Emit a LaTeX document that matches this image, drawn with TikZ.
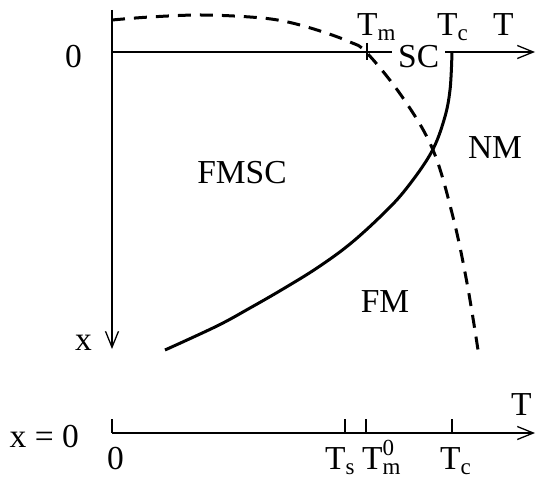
\documentclass[tikz,border=0pt]{standalone}
\usepackage{fontspec}
\setmainfont{Liberation Serif}
\usetikzlibrary{arrows.meta}
\newcommand\smf{\fontsize{23}{23}\selectfont}
\newcommand\lowsub[1]{\raisebox{-5pt}{\smf #1}}
\begin{document}
\begin{tikzpicture}[x=1pt,y=-1pt,
  axis/.style={line width=1.3pt,-{Straight Barb[length=16pt,width=13pt,line width=1.3pt]}},
  tickline/.style={line width=1.1pt},
  lbl/.style={inner sep=0pt,font=\fontsize{33.5}{36}\selectfont},
  phase/.style={line width=3pt},
  crossover/.style={line width=3pt,dash pattern=on 13pt off 9pt}]
\useasboundingbox (0,0) rectangle (537,478);
% coordinates
\coordinate (vtop) at (112,10);
\coordinate (vend) at (112,349);
\coordinate (o) at (112,52);
\coordinate (hend) at (535,52);
\coordinate (tmA) at (367,43);
\coordinate (tmB) at (367,60);
\coordinate (bo) at (112,433);
\coordinate (bend) at (535,433);
% axes
\draw[axis] (vtop) -- (vend);
\draw[axis] (o) -- (hend);
\draw[tickline] (tmA) -- (tmB);
% labels top
\node[lbl,anchor=base west] (zero) at (65,68) {0};
\node[lbl,anchor=base west] (tm) at (357,36) {T\lowsub{m}};
\node[lbl,anchor=base west] (tc) at (437,36) {T\lowsub{c}};
\node[lbl,anchor=base west] (tlab) at (493,36) {T};
\node[lbl,anchor=base west,fill=white,inner xsep=6pt,inner ysep=3pt] (sc) at (392,68) {SC};
\node[lbl,anchor=base west] (xlab) at (75,350) {x};
\node[lbl] (fmsc) at (242,173) {FMSC};
\node[lbl] (nm) at (495,148) {NM};
\node[lbl] (fm) at (385,302) {FM};
% curves
\draw[phase] plot[smooth,tension=0.6] coordinates {(452,52) (450,90) (444,120) (431,153) (406,189) (383,214) (350,244) (317,268) (283,289) (250,308) (217,326) (165,350)};
\draw[crossover] plot[smooth,tension=0.6] coordinates {(112,20) (150,17) (200,15) (250,17) (283,21) (317,30) (350,42) (367,53) (403,98) (433,150) (453,217) (467,283) (478,350)};
% bottom axis
\draw[axis] (bo) -- (bend);
\foreach \xx in {112,345,366,452} \draw[tickline] (\xx,419) -- (\xx,433);
\node[lbl,anchor=base east] (x0) at (79,447) {x = 0};
\node[lbl,anchor=base west] (b0) at (107,469) {0};
\node[lbl,anchor=base west] (ts) at (325,469) {T\lowsub{s}};
\node[lbl,anchor=base west] (tm0) at (362,469) {T\rlap{\raisebox{14pt}{\smf 0}}\lowsub{m}};
\node[lbl,anchor=base west] (tc2) at (440,469) {T\lowsub{c}};
\node[lbl,anchor=base west] (tb) at (511,415) {T};
\end{tikzpicture}
\end{document}
